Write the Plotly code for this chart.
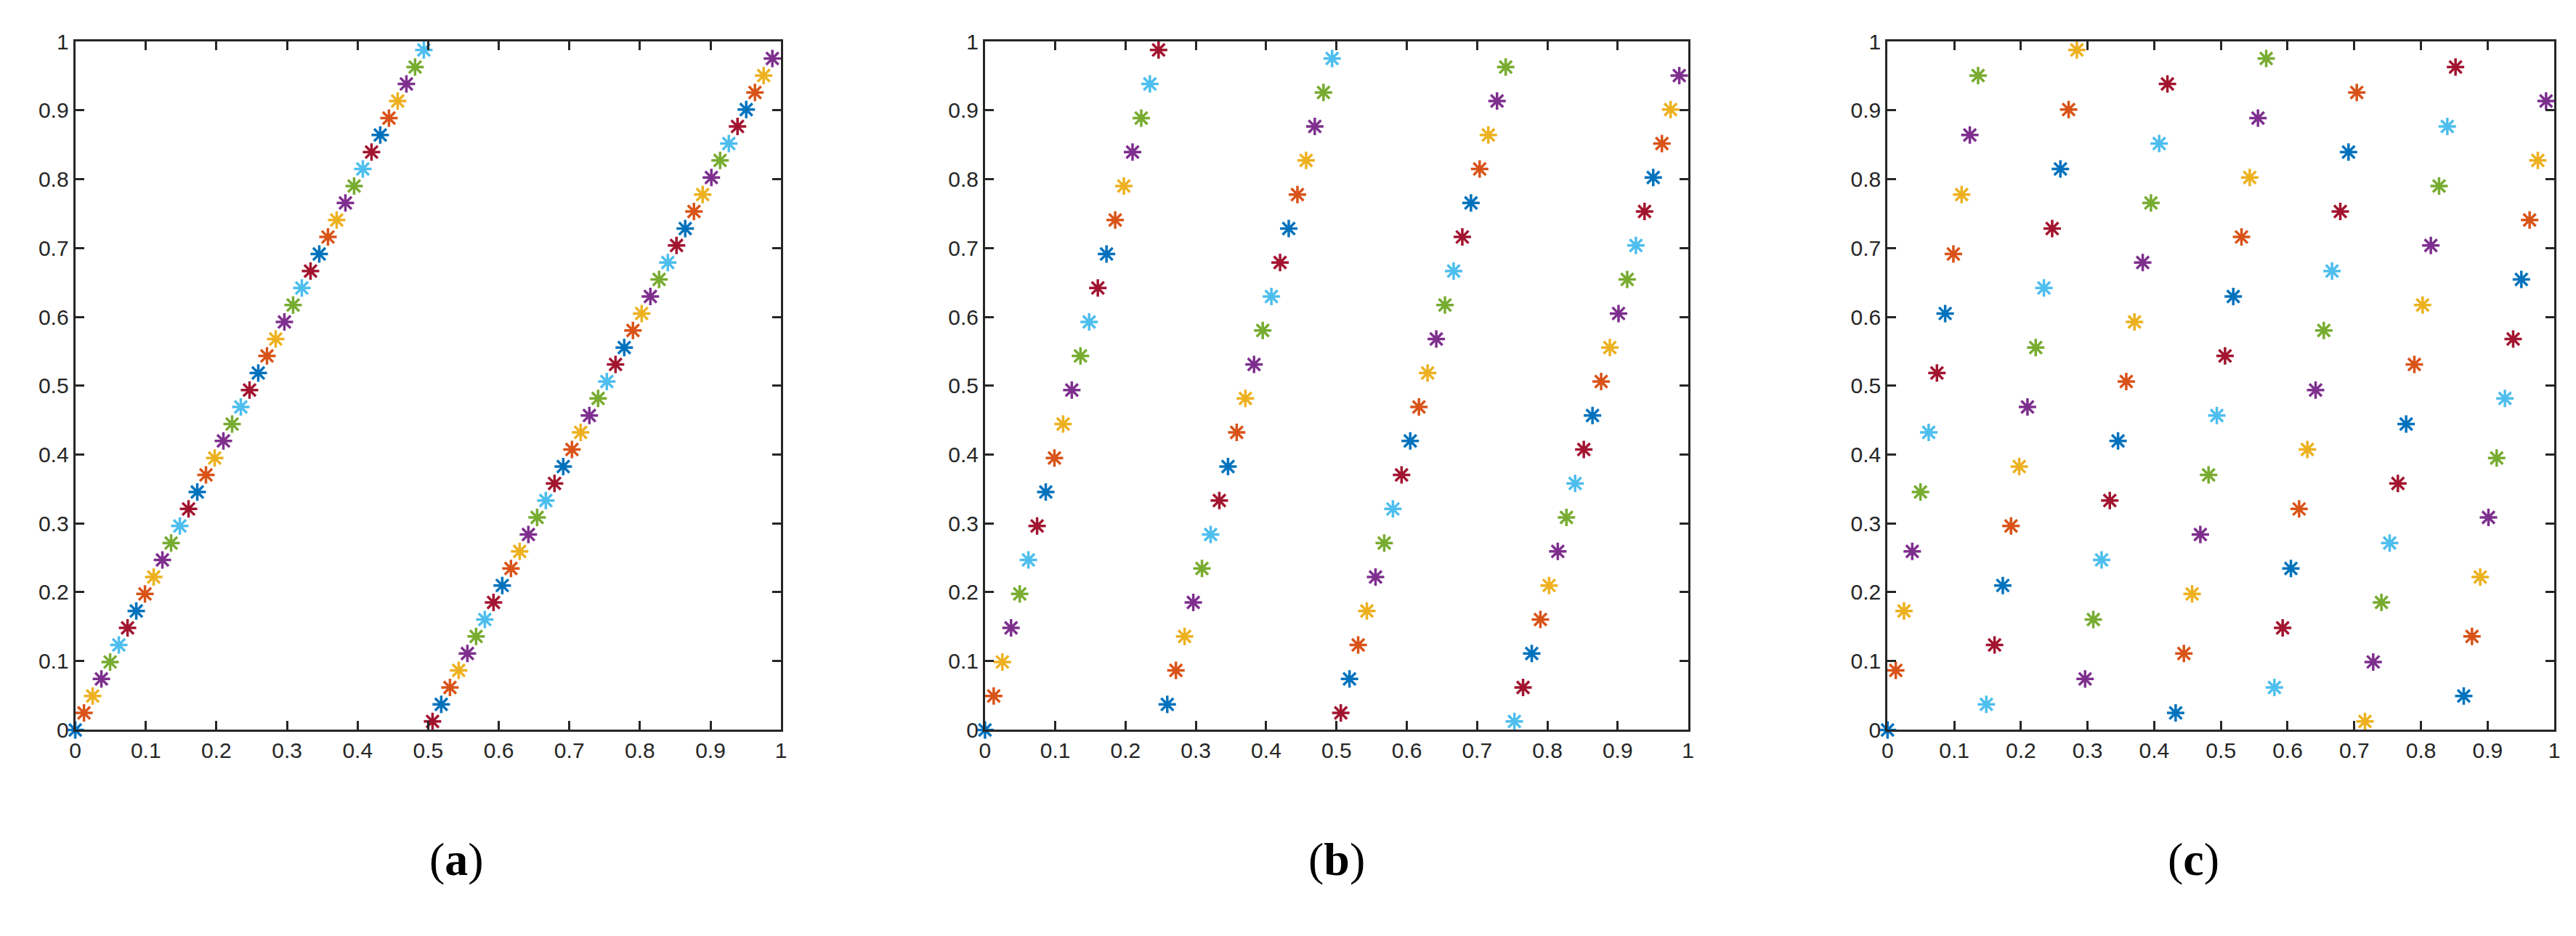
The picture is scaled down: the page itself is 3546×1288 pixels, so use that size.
import plotly.graph_objects as go

N = 81
x_idx = list(range(N))
ya = [0,2,4,6,8,10,12,14,16,18,20,22,24,26,28,30,32,34,36,38,40,42,44,46,48,50,52,54,56,58,60,62,64,66,68,70,72,74,76,78,80,
      1,3,5,7,9,11,13,15,17,19,21,23,25,27,29,31,33,35,37,39,41,43,45,47,49,51,53,55,57,59,61,63,65,67,69,71,73,75,77,79]
yb = [0,4,8,12,16,20,24,28,32,36,40,44,48,52,56,60,64,68,72,76,80,
      3,7,11,15,19,23,27,31,35,39,43,47,51,55,59,63,67,71,75,79,
      2,6,10,14,18,22,26,30,34,38,42,46,50,54,58,62,66,70,74,78,
      1,5,9,13,17,21,25,29,33,37,41,45,49,53,57,61,65,69,73,77]
yc = [0,7,14,21,28,35,42,49,56,63,70,77,
      3,10,17,24,31,38,45,52,59,66,73,80,
      6,13,20,27,34,41,48,55,62,69,76,
      2,9,16,23,30,37,44,51,58,65,72,79,
      5,12,19,26,33,40,47,54,61,68,75,
      1,8,15,22,29,36,43,50,57,64,71,78,
      4,11,18,25,32,39,46,53,60,67,74]
panel_labels = ["(<b>a</b>)", "(<b>b</b>)", "(<b>c</b>)"]
colors = ["#0072BD", "#D95319", "#EDB120", "#7E2F8E", "#77AC30", "#4DBEEE", "#A2142F"]

W, H = 3546, 1288
domains_px = [(88, 1064), (1346, 2318), (2594, 3516)]
ytop, ybot = 33, 1006

fig = go.Figure()
for p, ys in enumerate([ya, yb, yc]):
    ax = "" if p == 0 else str(p + 1)
    pt_colors = [colors[i % 7] for i in x_idx]
    fig.add_trace(go.Scatter(
        x=[i / N for i in x_idx], y=[v / N for v in ys], mode="markers",
        xaxis="x" + ax, yaxis="y" + ax, showlegend=False, cliponaxis=False,
        marker=dict(symbol="asterisk-open", size=20, color=pt_colors,
                    line=dict(width=3.5, color=pt_colors))))
    d = domains_px[p]
    common = dict(range=[0, 1], dtick=0.1, showgrid=False, zeroline=False,
                  showline=True, linecolor="#262626", linewidth=3, mirror="ticks",
                  ticks="inside", ticklen=12, tickwidth=3, tickcolor="#262626",
                  tickfont=dict(family="Liberation Sans", size=30, color="#262626"),
                  tickformat="~g")
    fig.layout["xaxis" + ax] = dict(common, domain=[d[0] / W, d[1] / W],
                                     anchor="y" + ax)
    fig.layout["yaxis" + ax] = dict(common, domain=[1 - ybot / H, 1 - ytop / H],
                                     anchor="x" + ax)
    fig.add_annotation(text=panel_labels[p],
                       x=(d[0] + d[1]) / 2 / W, y=1 - 1227 / H, xref="paper", yref="paper",
                       showarrow=False, font=dict(family="Liberation Serif", size=64, color="black"))

fig.update_layout(width=W, height=H, margin=dict(l=0, r=0, t=0, b=0),
                  plot_bgcolor="white", paper_bgcolor="white")
fig.write_html("out.html")
